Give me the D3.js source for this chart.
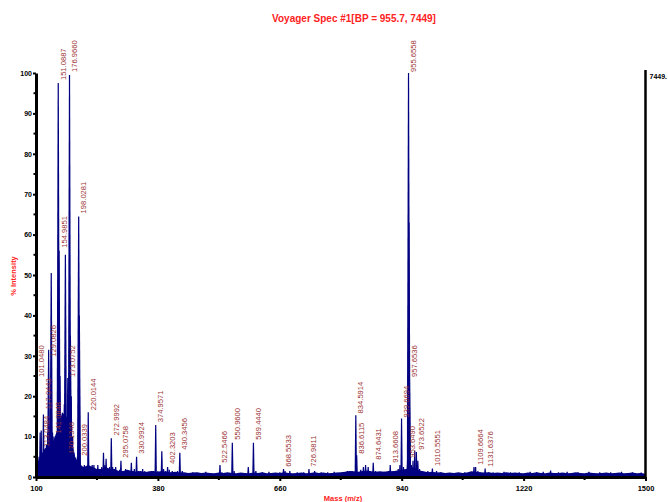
<!DOCTYPE html>
<html>
<head>
<meta charset="utf-8">
<script src="https://cdn.jsdelivr.net/npm/d3@7"></script>
<style>
  body { margin: 0; background: #fff; }
  text { font-family: "Liberation Sans", Arial, sans-serif; }
</style>
</head>
<body>
<div id="spectrum"></div>
<script>
// peak list (m/z, % intensity)
var peakMz = [101.05, 104, 107, 109.5, 112, 115, 117.04, 121, 124, 127, 129.08, 132, 135, 138, 141.08, 144, 147, 149,
  151.09, 153, 154.99, 157, 160, 163, 165, 167.5, 170.13, 173.08, 176.97, 179, 181, 184, 187, 190, 193, 195,
  198.03, 199.5, 200.03, 203, 207, 211, 215, 220.01, 224, 229, 233, 237, 242, 246, 251, 255, 258, 261, 265, 269,
  272.99, 276, 280, 283, 287, 292, 295.08, 300, 306, 312, 319, 323, 326, 330.99, 335, 340, 345, 350, 357, 365,
  370, 374.96, 380, 385, 389, 393, 398, 402.32, 406, 413, 420, 425, 430.35, 436, 445, 460, 470, 480, 490, 500,
  510, 522.55, 527, 540, 550.96, 555, 570, 580, 587.6, 599.44, 605, 620, 635, 650, 660, 668.55, 672, 683, 700,
  715, 726.98, 740, 755, 770, 785, 800, 815, 826, 834.59, 836.61, 846, 852, 857, 863, 868, 874.64, 880, 890,
  900, 913.66, 920, 928, 932, 936, 939.67, 944, 948, 953.65, 955.66, 956.66, 957.65, 958.7, 962, 966, 970,
  973.65, 977, 981, 986, 995, 1000, 1010.56, 1020, 1030, 1040, 1055, 1070, 1085, 1100, 1106, 1109.67, 1115,
  1120, 1131.64, 1140, 1150, 1160, 1175, 1190, 1210, 1235, 1250, 1265, 1282, 1300, 1320, 1345, 1370, 1395,
  1420, 1445, 1470, 1490];
var peakInt = [12, 3, 5, 11, 11.5, 6, 15.5, 7, 8, 11, 31.5, 10, 50.5, 11, 10, 6, 5, 9,
  97.5, 56, 25, 12, 6, 8, 18, 55, 5, 24.5, 99.5, 35, 20, 10, 6, 4, 3, 5,
  64.5, 40, 5, 3, 2.5, 3, 2.5, 16, 2.5, 3, 3, 2, 3, 2, 2.5, 6, 3, 4.5, 2, 2.5,
  9.6, 2.5, 2, 2.5, 1.5, 1.8, 4, 1.5, 2, 1.5, 3.5, 1.5, 2, 5, 1.5, 1.5, 2, 1.5, 1.2, 1.5,
  1.5, 12.9, 1.5, 1.5, 6.4, 2, 1.5, 2.5, 1.8, 1.5, 1, 1.5, 6, 1.5, 1, 1.2, 0.8, 1, 1.3, 0.8,
  0.8, 3, 1.2, 1, 8.5, 1.5, 1, 1, 2.5, 8.5, 1.5, 1.2, 1.3, 1, 1.2, 2, 1.5, 1.5, 1.2,
  1.2, 2, 1.5, 1.2, 1.2, 1.3, 1, 1.5, 1.5, 15.3, 5.4, 1.8, 2.5, 3, 2.5, 1.5, 3.5, 1.5, 1.2,
  1.3, 3, 1.5, 1.5, 2, 3, 14.5, 2.5, 1.5, 4.5, 100, 63, 24.5, 8, 3, 4, 6.5,
  6.2, 4, 2, 1.5, 1.2, 1.5, 2.1, 1.5, 1.2, 1, 1, 1, 1.2, 1, 2.5, 2.5, 1.5,
  1.2, 2.1, 1.2, 1.2, 1, 1.3, 1.2, 1.2, 1.3, 1.2, 1.3, 1.6, 1.2, 1.3, 1.2, 1.3, 1.2,
  1.2, 1.3, 1.2, 1.1];

// baseline noise, one value every 10 m/z from 100 to 1500
var noiseStart = 100, noiseStep = 10;
var noiseInt = [3, 5, 7, 8, 9, 12, 16, 15, 10, 5,
  3, 2.5, 3, 2.5, 2, 2, 2.5, 2, 2, 1.5,
  1.5, 1.8, 1.5, 1.3, 1.5, 1.2, 1.4, 1.5, 1.2, 1.4,
  1.3, 1.2, 1.3, 1.1, 1.2, 1.0, 1.1, 1.2, 1.0, 1.1,
  1.0, 0.9, 1.1, 1.0, 1.2, 1.0, 0.9, 1.1, 1.0, 0.9,
  1.1, 1.0, 1.2, 0.9, 1.0, 1.1, 1.0, 1.2, 1.0, 0.9,
  1.0, 1.1, 0.9, 1.0, 1.2, 1.0, 1.1, 0.9, 1.0, 1.1,
  1.2, 1.3, 1.5, 1.4, 1.3, 1.5, 1.6, 1.4, 1.3, 1.4,
  1.3, 1.5, 1.4, 1.6, 1.8, 2.0, 2.5, 2.2, 1.6, 1.4,
  1.2, 1.3, 1.1, 1.2, 1.0, 1.1, 1.0, 1.2, 1.0, 1.1,
  1.4, 1.3, 1.2, 1.1, 1.2, 1.0, 1.1, 1.0, 1.2, 1.0,
  1.1, 1.0, 0.9, 1.1, 1.0, 1.2, 1.0, 0.9, 1.1, 1.0,
  1.0, 1.1, 0.9, 1.0, 1.2, 1.0, 0.9, 1.1, 1.0, 0.9,
  1.0, 1.1, 0.9, 1.0, 1.1, 0.9, 1.0, 1.1, 0.9, 1.0,
  0.8];

// peak annotations: text, m/z, and the % level where the label starts
var labelText = ["101.0480", "113.0484", "117.0443", "129.0826", "141.0848", "151.0887", "154.9851", "170.1348",
  "173.0752", "176.9660", "198.0281", "200.0339", "220.0144", "272.9992", "295.0758", "330.9924", "374.9571",
  "402.3203", "430.3456", "522.5466", "550.9600", "599.4440", "668.5533", "726.9811", "834.5914", "836.6115",
  "874.6431", "913.6608", "939.6694", "953.6490", "955.6558", "957.6536", "973.6522", "1010.5551", "1109.6664",
  "1131.6376"];
var labelMz = [101.05, 113.05, 117.04, 129.08, 141.08, 151.09, 154.99, 170.13,
  173.08, 176.97, 198.03, 200.03, 220.01, 272.99, 295.08, 330.99, 374.96,
  402.32, 430.35, 522.55, 550.96, 599.44, 668.55, 726.98, 834.59, 836.61,
  874.64, 913.66, 939.67, 953.65, 955.66, 957.65, 973.65, 1010.56, 1109.67,
  1131.64];
var labelLevel = [24.5, 7.2, 16.5, 29.5, 10.5, 98, 56.5, 5.5,
  24.5, 100, 65, 5, 16.3, 10, 4.5, 5.5, 13.3,
  3, 6.5, 3.3, 9, 9, 2.3, 2.3, 15.5, 5.5,
  4, 3.3, 14.5, 4.5, 100, 24.5, 6.5, 2.5, 2.8,
  2.3];

var yTicks = [0, 10, 20, 30, 40, 50, 60, 70, 80, 90, 100];
var yMinor = [5, 15, 25, 35, 45, 55, 65, 75, 85, 95];
var xTicks = [100, 380, 660, 940, 1220, 1500];
var xMinor = [240, 520, 800, 1080, 1360];

var W = 668, H = 502;
var specColor = "#000080", labelColor = "#9c3434", red = "#ff2222";

var svg = d3.select("#spectrum").append("svg")
    .attr("width", W)
    .attr("height", H);

var x = d3.scaleLinear().domain([100, 1500]).range([36, 645.5]);
var y = d3.scaleLinear().domain([0, 100]).range([477, 73]);

// title
svg.append("text")
    .attr("x", 354).attr("y", 22)
    .attr("text-anchor", "middle")
    .style("font-size", "10px").style("font-weight", "bold")
    .style("fill", red)
    .text("Voyager Spec #1[BP = 955.7, 7449]");

// baseline noise
var noiseData = noiseInt.map(function(v, i) { return {mz: noiseStart + i * noiseStep, v: v}; });
svg.append("path")
    .datum(noiseData)
    .attr("fill", specColor)
    .attr("d", d3.area()
        .x(function(d) { return x(d.mz); })
        .y0(y(0))
        .y1(function(d) { return y(d.v); }));

// peaks as narrow spikes
var spike = d3.line();
svg.append("g").selectAll("path")
    .data(peakMz.map(function(m, i) { return {mz: m, v: peakInt[i]}; }))
    .enter().append("path")
    .attr("fill", specColor)
    .attr("d", function(d) {
        var px = x(d.mz), half = d.v > 20 ? 1.7 : 1.2;
        return spike([[px - half, y(0)], [px - 0.6, y(d.v)], [px + 0.6, y(d.v)], [px + half, y(0)]]) + "Z";
    });

// peak labels
svg.append("g").selectAll("text")
    .data(labelText)
    .enter().append("text")
    .attr("transform", function(d, i) {
        return "translate(" + (x(labelMz[i]) + 7.5) + "," + (y(labelLevel[i]) - 1) + ") rotate(-90)";
    })
    .style("font-size", "7.6px")
    .style("fill", labelColor)
    .text(function(d) { return d; });

// y axis
var yAxis = svg.append("g")
    .attr("transform", "translate(" + x(100) + ",0)")
    .call(d3.axisLeft(y).tickValues(yTicks).tickSize(3).tickSizeOuter(0).tickPadding(1));
yAxis.select(".domain").attr("stroke-width", 3);
yAxis.selectAll(".tick line").attr("stroke-width", 2);
yAxis.selectAll("text").style("font-size", "7px").style("font-weight", "bold").attr("fill", "#000");
yAxis.selectAll(".minor")
    .data(yMinor)
    .enter().append("line")
    .attr("class", "minor")
    .attr("x1", -2.5).attr("x2", 0)
    .attr("y1", function(d) { return y(d); }).attr("y2", function(d) { return y(d); })
    .attr("stroke", "#000").attr("stroke-width", 2);

// x axis
var xAxis = svg.append("g")
    .attr("transform", "translate(0," + y(0) + ")")
    .call(d3.axisBottom(x).tickValues(xTicks).tickFormat(d3.format("d")).tickSize(4).tickSizeOuter(0).tickPadding(5));
xAxis.select(".domain").attr("stroke-width", 3);
xAxis.selectAll(".tick line").attr("stroke-width", 2);
xAxis.selectAll("text").style("font-size", "7.5px").style("font-weight", "bold").attr("fill", "#000");
xAxis.selectAll(".minor")
    .data(xMinor)
    .enter().append("line")
    .attr("class", "minor")
    .attr("x1", function(d) { return x(d); }).attr("x2", function(d) { return x(d); })
    .attr("y1", 0).attr("y2", 3)
    .attr("stroke", "#000").attr("stroke-width", 2);

// right-hand absolute intensity axis
svg.append("line")
    .attr("x1", x(1500)).attr("x2", x(1500))
    .attr("y1", y(100) - 3).attr("y2", y(0))
    .attr("stroke", "#000").attr("stroke-width", 2.5);
svg.append("text")
    .attr("x", x(1500) + 4).attr("y", y(100) + 6)
    .style("font-size", "7px").style("font-weight", "bold")
    .text("7449.");

// axis titles
svg.append("text")
    .attr("transform", "translate(16,276) rotate(-90)")
    .attr("text-anchor", "middle")
    .style("font-size", "7.5px").style("font-weight", "bold")
    .style("fill", red)
    .text("% Intensity");
svg.append("text")
    .attr("x", 343).attr("y", 501)
    .attr("text-anchor", "middle")
    .style("font-size", "7.5px").style("font-weight", "bold")
    .style("fill", red)
    .text("Mass (m/z)");
</script>
</body>
</html>
